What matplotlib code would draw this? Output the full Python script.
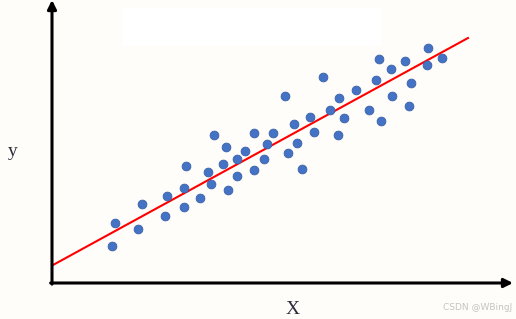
import matplotlib.pyplot as plt
import matplotlib.patches as mpatches

# pontos (unidades arbitrárias)
x = [60, 63, 86, 90, 113, 115, 132, 132, 134, 148, 156, 159, 162, 171, 174,
     176, 185, 185, 193, 202, 202, 212, 215, 221, 233, 236, 242, 245, 250,
     258, 262, 271, 278, 287, 286, 292, 304, 317, 324, 327, 329, 339, 340,
     353, 359, 357, 376, 375, 390]
y = [37, 60, 54, 79, 67, 87, 76, 95, 117, 85, 111, 99, 148, 119, 136,
     93, 124, 107, 132, 150, 113, 124, 139, 150, 187, 130, 159, 140, 114,
     166, 151, 206, 173, 185, 148, 165, 193, 173, 203, 224, 162, 214, 187,
     222, 200, 177, 235, 218, 225]

# reta de regressão (extremos)
line_x = [1, 416]
line_y = [18, 245]

W, H = 516, 319
fig = plt.figure(figsize=(W / 100, H / 100), dpi=100)
fig.patch.set_facecolor('#FFFDF9')

# faixa branca no topo
fig.patches.append(mpatches.Rectangle((123 / W, 1 - 45 / H), 257 / W, 37 / H,
                                      transform=fig.transFigure,
                                      color='white', zorder=0))

ax = fig.add_axes([52 / W, 36 / H, 461 / W, 283 / H])
ax.set_facecolor('none')
ax.set_xlim(0, 461)
ax.set_ylim(0, 283)
for s in ax.spines.values():
    s.set_visible(False)
ax.set_xticks([])
ax.set_yticks([])

ax.plot(line_x, line_y, color='#FF0000', lw=1.5, zorder=2)
ax.scatter(x, y, s=40, color='#4472C4', edgecolors='#3A62A8',
           linewidths=0.6, zorder=3)

# eixos com setas
arrow = dict(arrowstyle='-|>', color='black', lw=2.2, mutation_scale=13,
             shrinkA=0, shrinkB=0)
ax.annotate('', xy=(1, 0), xytext=(-0.003, 0), xycoords='axes fraction',
            arrowprops=arrow, annotation_clip=False)
ax.annotate('', xy=(0, 1), xytext=(0, -0.004), xycoords='axes fraction',
            arrowprops=arrow, annotation_clip=False)

fig.text(13 / W, 1 - 152 / H, 'y', family='Liberation Serif', fontsize=14,
         color='#2B2B3A', ha='center', va='center')
fig.text(293 / W, 1 - 310 / H, 'X', family='Liberation Serif', fontsize=14,
         color='#2B2B3A', ha='center', va='center')
fig.text(512 / W, 1 - 308 / H, 'CSDN @WBingJ', fontsize=6.5, color='#C4C4C4',
         ha='right', va='center')

fig.savefig('out.png', dpi=100, facecolor=fig.get_facecolor())
